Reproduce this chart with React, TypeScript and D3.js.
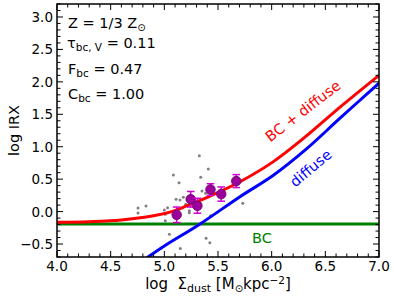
import React from "react";
import * as d3 from "d3";

const W = 394, H = 296;
const margin = { left: 57, right: 379, top: 4, bottom: 257 };

const xDomain = [4, 7];
const yDomain = [-0.7, 3.2];
const xTicks = [4.0, 4.5, 5.0, 5.5, 6.0, 6.5, 7.0];
const yTicks = [-0.5, 0.0, 0.5, 1.0, 1.5, 2.0, 2.5, 3.0];

// BC level (horizontal)
const bcLevel = -0.19;

// "BC + diffuse" curve
const redX = [4.0, 4.3, 4.6, 4.9, 5.07, 5.18, 5.4, 5.705, 6.016, 6.327, 6.637, 7.0];
const redY = [-0.165, -0.155, -0.13, -0.065, 0.0, 0.07, 0.22, 0.46, 0.77, 1.17, 1.61, 2.1];

// "diffuse" curve
const blueX = [4.835, 5.0, 5.333, 5.705, 6.016, 6.327, 6.637, 7.0];
const blueY = [-0.715, -0.53, -0.19, 0.23, 0.56, 0.97, 1.44, 1.98];

// binned points with errors
const binX = [5.115, 5.246, 5.308, 5.43, 5.53, 5.67];
const binY = [-0.05, 0.19, 0.09, 0.34, 0.27, 0.47];
const binErr = [0.12, 0.12, 0.115, 0.09, 0.11, 0.1];

// individual grey points
const grayX = [5.326, 5.084, 5.41, 5.137, 5.339, 5.351, 5.384, 4.755, 4.755, 4.829, 5.0, 5.009, 5.009, 5.03, 5.109, 5.146, 5.177, 5.199, 5.233, 5.233, 5.431, 5.731, 5.047, 5.149, 5.389, 5.424];
const grayY = [0.861, 0.564, 0.656, 0.445, 0.528, 0.317, 0.282, 0.055, -0.022, 0.086, 0.025, -0.042, -0.14, 0.06, 0.19, 0.179, 0.22, 0.112, 0.014, -0.017, -0.063, 0.129, -0.35, -0.569, -0.411, -0.481];

const FONT = "DejaVu Sans";

export default function App() {
  const x = d3.scaleLinear().domain(xDomain).range([margin.left, margin.right]);
  const y = d3.scaleLinear().domain(yDomain).range([margin.bottom, margin.top]);

  const line = d3
    .line<[number, number]>()
    .x((d) => x(d[0]))
    .y((d) => y(d[1]))
    .curve(d3.curveCatmullRom.alpha(0.5));

  const redPts = redX.map((v, i) => [v, redY[i]] as [number, number]);
  const bluePts = blueX.map((v, i) => [v, blueY[i]] as [number, number]);

  const xMinor = d3.range(40, 71).map((v) => v / 10);
  const yMinor = d3.range(-7, 33).map((v) => v / 10);
  const fmt = (v: number) => (v < 0 ? "\u2212" : "") + Math.abs(v).toFixed(1);

  const maj = 6, mnr = 3.5;
  const fs = 13.5;

  return (
    <svg width={W} height={H} style={{ position: "absolute", left: 0, top: 0 }} fontFamily={FONT}>
      <rect width={W} height={H} fill="white" />
      <defs>
        <clipPath id="plotClip">
          <rect x={margin.left} y={margin.top} width={margin.right - margin.left} height={margin.bottom - margin.top} />
        </clipPath>
      </defs>

      <g clipPath="url(#plotClip)">
        {grayX.map((v, i) => (
          <circle key={"g" + i} cx={x(v)} cy={y(grayY[i])} r={1.5} fill="#808080" />
        ))}
        <line x1={margin.left} x2={margin.right} y1={y(bcLevel)} y2={y(bcLevel)} stroke="#008000" strokeWidth={3} />
        <path d={line(bluePts) || ""} fill="none" stroke="#0000ff" strokeWidth={3} />
        <path d={line(redPts) || ""} fill="none" stroke="#ff0000" strokeWidth={3} />
        {binX.map((v, i) => {
          const cx = x(v);
          const y1 = y(binY[i] - binErr[i]);
          const y2 = y(binY[i] + binErr[i]);
          return (
            <g key={"b" + i}>
              <line x1={cx} x2={cx} y1={y1} y2={y2} stroke="#d000d0" strokeWidth={1.5} />
              <line x1={cx - 3.8} x2={cx + 3.8} y1={y1} y2={y1} stroke="#d000d0" strokeWidth={1.5} />
              <line x1={cx - 3.8} x2={cx + 3.8} y1={y2} y2={y2} stroke="#d000d0" strokeWidth={1.5} />
              <circle cx={cx} cy={y(binY[i])} r={4.8} fill="#9c009c" stroke="#6a006a" strokeWidth={0.8} />
            </g>
          );
        })}
      </g>

      <g stroke="black" strokeWidth={1}>
        {xMinor.map((v, i) => {
          const isMaj = Math.abs(v * 2 - Math.round(v * 2)) < 1e-6;
          const l = isMaj ? maj : mnr;
          return (
            <g key={"xt" + i}>
              <line x1={x(v)} x2={x(v)} y1={margin.bottom} y2={margin.bottom - l} />
              <line x1={x(v)} x2={x(v)} y1={margin.top} y2={margin.top + l} />
            </g>
          );
        })}
        {yMinor.map((v, i) => {
          const isMaj = Math.abs(v * 2 - Math.round(v * 2)) < 1e-6;
          const l = isMaj ? maj : mnr;
          return (
            <g key={"yt" + i}>
              <line y1={y(v)} y2={y(v)} x1={margin.left} x2={margin.left + l} />
              <line y1={y(v)} y2={y(v)} x1={margin.right} x2={margin.right - l} />
            </g>
          );
        })}
      </g>

      <rect x={margin.left} y={margin.top} width={margin.right - margin.left} height={margin.bottom - margin.top} fill="none" stroke="black" strokeWidth={1.5} />

      {xTicks.map((v) => (
        <text key={"xl" + v} x={x(v)} y={margin.bottom + 13.5} fontSize={fs} textAnchor="middle">{fmt(v)}</text>
      ))}
      {yTicks.map((v) => (
        <text key={"yl" + v} x={margin.left - 4} y={y(v) + 5} fontSize={fs} textAnchor="end">{fmt(v)}</text>
      ))}

      <text x={218} y={288.5} fontSize={15} textAnchor="middle">
        {"log\u00a0\u00a0Σ"}<tspan fontSize={11} dy={3}>dust</tspan>
        <tspan dy={-3}>{"\u00a0[M"}</tspan>
        <tspan fontSize={10} dy={3}>⊙</tspan>
        <tspan dy={-3}>kpc</tspan>
        <tspan fontSize={10.5} dy={-5}>−2</tspan>
        <tspan dy={5}>]</tspan>
      </text>
      <text transform={`translate(19,${(margin.top + margin.bottom) / 2}) rotate(-90)`} fontSize={14.5} textAnchor="middle">log IRX</text>

      <g fontSize={14.5}>
        <text x={68} y={28}>Z = 1/3 Z<tspan fontSize={10} dy={3}>⊙</tspan></text>
        <text x={67} y={48}>τ<tspan fontSize={10.5} dy={3}>bc, V</tspan><tspan dy={-3}> = 0.11</tspan></text>
        <text x={68} y={74}>F<tspan fontSize={10.5} dy={3}>bc</tspan><tspan dy={-3}> = 0.47</tspan></text>
        <text x={68} y={99}>C<tspan fontSize={10.5} dy={3}>bc</tspan><tspan dy={-3}> = 1.00</tspan></text>
      </g>

      <text transform={`translate(306,115) rotate(-37.5)`} fontSize={14.5} fill="#ff0000" textAnchor="middle">BC + diffuse</text>
      <text transform={`translate(314,172) rotate(-40)`} fontSize={14.5} fill="#0000ff" textAnchor="middle">diffuse</text>
      <text x={262} y={243} fontSize={14.5} fill="#008000" textAnchor="middle">BC</text>
    </svg>
  );
}
